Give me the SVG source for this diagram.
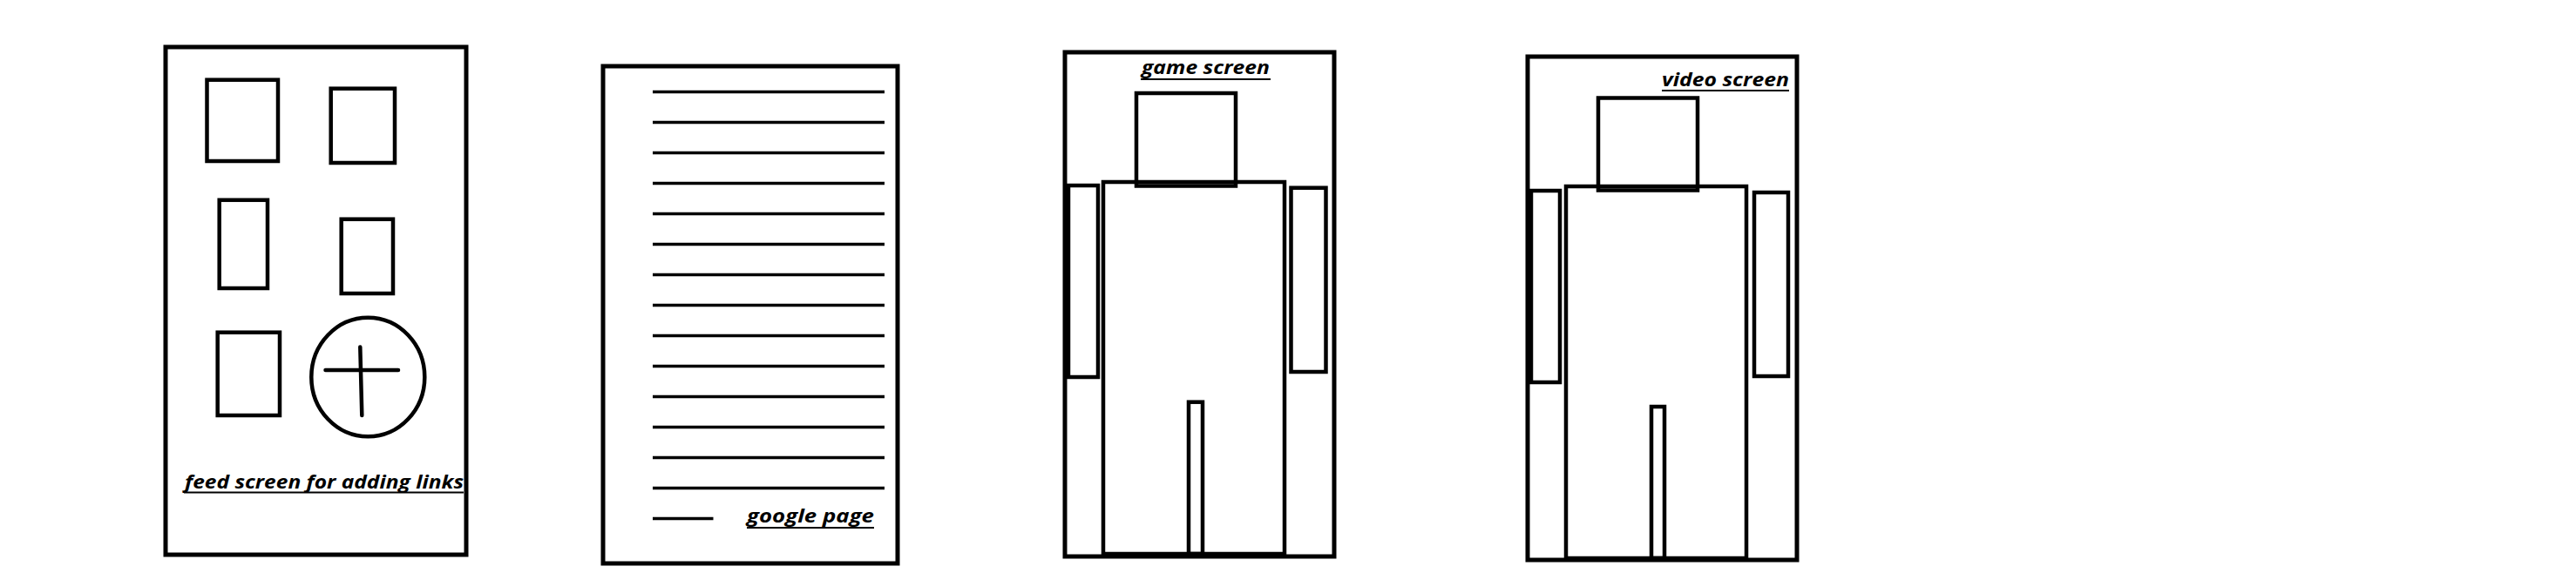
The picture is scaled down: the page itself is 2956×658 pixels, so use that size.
<svg xmlns="http://www.w3.org/2000/svg" width="2956" height="658" viewBox="0 0 2956 658">
<style>
.frame{fill:none;stroke:#000;stroke-width:5}
.box{fill:none;stroke:#000;stroke-width:4.5}
.thin{fill:none;stroke:#000;stroke-width:4.5}
.rule{stroke:#000;stroke-width:3.5}
.lbl{font-family:"Open Sans","DejaVu Sans",sans-serif;font-weight:bold;font-style:italic;font-size:22px;fill:#000}
.ul{stroke:#000;stroke-width:1.8}
</style>
<rect x="0" y="0" width="2956" height="658" fill="#fff"/>
<g id="feed-screen">
<rect class="frame" x="190" y="54" width="345" height="583"/>
<rect class="thin" x="237.5" y="91.7" width="81.5" height="93.3"/>
<rect class="thin" x="379.7" y="101.7" width="73.3" height="85.3"/>
<rect class="thin" x="251.7" y="229.7" width="55.3" height="101.3"/>
<rect class="thin" x="391.7" y="251.7" width="59.3" height="85.3"/>
<rect class="thin" x="249.7" y="381.7" width="71.3" height="95.3"/>
<ellipse class="thin" cx="422.3" cy="433" rx="65" ry="68.3"/>
<line class="thin" x1="373.5" y1="425" x2="457" y2="425" stroke-linecap="round"/>
<line class="thin" x1="413.3" y1="398.5" x2="415.3" y2="477" stroke-linecap="round"/>
<text class="lbl" x="212" y="560.7" font-size="24" textLength="320" lengthAdjust="spacingAndGlyphs">feed screen for adding links</text>
<line class="ul" x1="211" y1="565.5" x2="532" y2="565.5"/>
</g>
<g id="google-page">
<rect class="frame" x="692" y="76" width="338" height="571"/>
<line class="rule" x1="749" y1="105.5" x2="1015" y2="105.5"/>
<line class="rule" x1="749" y1="140.5" x2="1015" y2="140.5"/>
<line class="rule" x1="749" y1="175.5" x2="1015" y2="175.5"/>
<line class="rule" x1="749" y1="210.5" x2="1015" y2="210.5"/>
<line class="rule" x1="749" y1="245.5" x2="1015" y2="245.5"/>
<line class="rule" x1="749" y1="280.5" x2="1015" y2="280.5"/>
<line class="rule" x1="749" y1="315.5" x2="1015" y2="315.5"/>
<line class="rule" x1="749" y1="350.5" x2="1015" y2="350.5"/>
<line class="rule" x1="749" y1="385.5" x2="1015" y2="385.5"/>
<line class="rule" x1="749" y1="420.5" x2="1015" y2="420.5"/>
<line class="rule" x1="749" y1="455.5" x2="1015" y2="455.5"/>
<line class="rule" x1="749" y1="490.5" x2="1015" y2="490.5"/>
<line class="rule" x1="749" y1="525.5" x2="1015" y2="525.5"/>
<line class="rule" x1="749" y1="560.5" x2="1015" y2="560.5"/>
<line class="rule" x1="749" y1="595.5" x2="818.5" y2="595.5"/>
<text class="lbl" x="857" y="600" textLength="146" lengthAdjust="spacingAndGlyphs">google page</text>
<line class="ul" x1="857" y1="606" x2="1003" y2="606"/>
</g>
<g id="game-screen">
<rect class="frame" x="1222" y="60" width="309" height="579"/>
<text class="lbl" x="1310" y="85" textLength="147" lengthAdjust="spacingAndGlyphs">game screen</text>
<line class="ul" x1="1309" y1="91" x2="1458" y2="91"/>
<rect class="box" x="1266" y="209" width="208" height="427"/>
<rect class="box" x="1304" y="107" width="114" height="106.5"/>
<rect class="box" x="1226" y="213" width="34" height="220"/>
<rect class="box" x="1481.5" y="215.7" width="40" height="211.3"/>
<rect class="box" x="1364" y="461.7" width="16" height="174.3"/>
</g>
<g id="video-screen">
<rect class="frame" x="1753" y="65" width="309" height="578"/>
<text class="lbl" x="1907" y="99" textLength="146" lengthAdjust="spacingAndGlyphs">video screen</text>
<line class="ul" x1="1907" y1="104" x2="2053" y2="104"/>
<rect class="box" x="1797" y="214" width="207" height="427"/>
<rect class="box" x="1834" y="112.5" width="114" height="106"/>
<rect class="box" x="1757" y="219" width="33" height="220"/>
<rect class="box" x="2013" y="221" width="39" height="211"/>
<rect class="box" x="1895" y="467" width="15" height="174"/>
</g>
<g id="connectors"></g>
</svg>
